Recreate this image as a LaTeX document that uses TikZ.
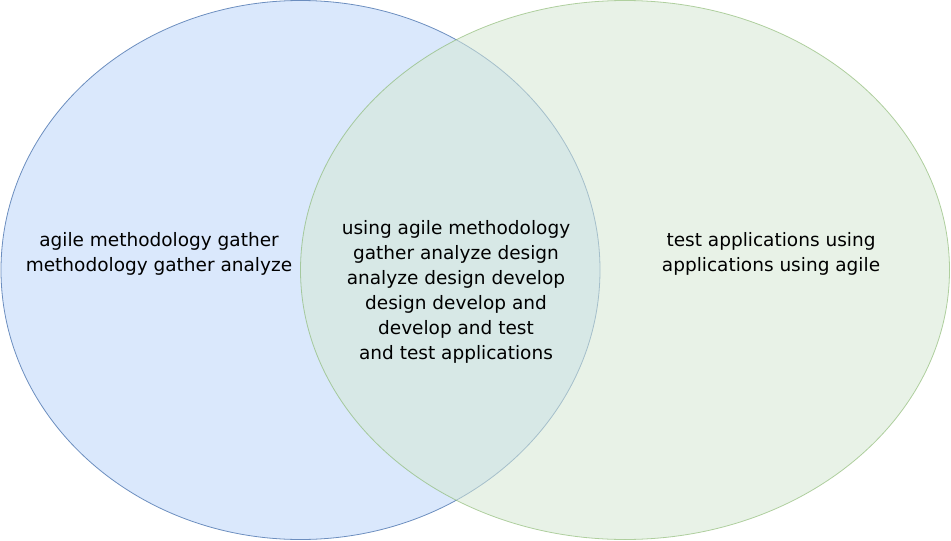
\documentclass[tikz,border=0pt]{standalone}
\usepackage{fontspec}
\setmainfont{DejaVu Sans}
\usetikzlibrary{shapes.geometric}
\definecolor{bfill}{HTML}{DAE8FC}
\definecolor{bline}{HTML}{6C8EBF}
\definecolor{gfill}{HTML}{D5E8D4}
\definecolor{gline}{HTML}{82B366}
\begin{document}
\begin{tikzpicture}[x=1pt,y=-1pt,
  lbl/.style={align=center,font=\fontsize{18.5}{25}\selectfont,text=black,inner sep=0pt}]
\useasboundingbox (0,0) rectangle (951,541);
\node[draw=bline,fill=bfill,ellipse,minimum width=599pt,minimum height=539pt,inner sep=0pt,line width=0.8pt] (left) at (300.5,270) {};
\node[draw=gline,fill=gfill,draw opacity=0.6,fill opacity=0.55,ellipse,minimum width=649pt,minimum height=539pt,inner sep=0pt,line width=0.8pt] (right) at (625,270) {};
\node[lbl] (ltext) at (159,254) {agile methodology gather\\methodology gather analyze};
\node[lbl] (rtext) at (771,254) {test applications using\\applications using agile};
\node[lbl] (mtext) at (456,292) {using agile methodology\\gather analyze design\\analyze design develop\\design develop and\\develop and test\\and test applications};
\end{tikzpicture}
\end{document}
